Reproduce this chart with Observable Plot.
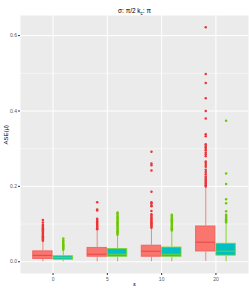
<!DOCTYPE html>
<html>
<head>
<meta charset="utf-8">
<script src="https://cdn.jsdelivr.net/npm/d3@7"></script>
<script src="https://cdn.jsdelivr.net/npm/@observablehq/plot@0.6"></script>
<style>
  body { margin: 0; background: #fff; }
  svg { font-family: "Liberation Sans", Arial, sans-serif; }
</style>
</head>
<body>
<div id="chart"></div>
<script>
// ---- data ----
const epsilons = ["0", "5", "10", "20"];
const yTicks = [0, 0.2, 0.4, 0.6];
const yMinor = [0.1, 0.3, 0.5];

const redLow  = [0.000, 0.000, 0.000, 0.001];
const redQ1   = [0.006, 0.012, 0.012, 0.026];
const redMed  = [0.017, 0.020, 0.028, 0.052];
const redQ3   = [0.029, 0.038, 0.044, 0.095];
const redHigh = [0.053, 0.083, 0.087, 0.196];

const greenLow  = [0.000, 0.000, 0.000, 0.000];
const greenQ1   = [0.004, 0.012, 0.012, 0.015];
const greenMed  = [0.011, 0.020, 0.020, 0.028];
const greenQ3   = [0.016, 0.035, 0.039, 0.049];
const greenHigh = [0.029, 0.069, 0.080, 0.100];

const redOut0  = [0.056,0.059,0.062,0.065,0.068,0.071,0.074,0.077,0.080,0.083,0.086,0.089,0.092,0.095,0.098,0.104,0.111];
const redOut5  = [0.086,0.089,0.092,0.095,0.098,0.101,0.104,0.107,0.111,0.114,0.136,0.139,0.158];
const redOut10 = [0.090,0.093,0.096,0.099,0.102,0.105,0.108,0.111,0.114,0.118,0.122,0.126,0.135,0.147,0.150,0.155,0.158,0.186,0.242,0.256,0.261,0.292];
const redOut20 = [0.200,0.203,0.206,0.209,0.212,0.215,0.218,0.222,0.226,0.232,0.238,0.244,0.252,0.257,0.262,0.266,0.280,0.285,0.290,0.296,0.300,0.304,0.308,0.312,0.333,0.338,0.380,0.400,0.434,0.474,0.498,0.622];

const greenOut0  = [0.032,0.035,0.038,0.041,0.044,0.047,0.050,0.053,0.057,0.062];
const greenOut5  = [0.072,0.075,0.078,0.081,0.084,0.087,0.090,0.093,0.096,0.099,0.102,0.105,0.108,0.111,0.114,0.117,0.120,0.124,0.128,0.131];
const greenOut10 = [0.083,0.086,0.089,0.092,0.095,0.098,0.101,0.104,0.107,0.110,0.113,0.116,0.119,0.122,0.125];
const greenOut20 = [0.104,0.107,0.110,0.113,0.116,0.119,0.122,0.125,0.134,0.155,0.166,0.206,0.234,0.374];

const redOut = [redOut0, redOut5, redOut10, redOut20];
const greenOut = [greenOut0, greenOut5, greenOut10, greenOut20];

// ---- styling ----
const RED_FILL = "#F8766D", RED_LINE = "#F25C5C", RED_MED = "#E8444A", RED_PT = "#EE3338", RED_WHISK = "#F27A7A";
const GRN_FILL = "#00BFC4", GRN_LINE = "#79D21C", GRN_PT = "#6CC800";

// ---- build tables ----
const HALF = 0.375; // dodge half width
const boxes = [];
epsilons.forEach((e, i) => {
  boxes.push({c: i + 1, side: -1, lo: redLow[i], q1: redQ1[i], med: redMed[i], q3: redQ3[i], hi: redHigh[i], fill: RED_FILL, line: RED_LINE, medc: RED_MED, wh: RED_WHISK});
  boxes.push({c: i + 1, side: 1, lo: greenLow[i], q1: greenQ1[i], med: greenMed[i], q3: greenQ3[i], hi: greenHigh[i], fill: GRN_FILL, line: GRN_LINE, medc: GRN_LINE, wh: GRN_LINE});
});
const pts = [];
epsilons.forEach((e, i) => {
  redOut[i].forEach(v => pts.push({c: i + 1, side: -1, v, col: RED_PT}));
  greenOut[i].forEach(v => pts.push({c: i + 1, side: 1, v, col: GRN_PT}));
});
const left = d => d.side < 0 ? d.c - HALF : d.c;
const right = d => d.side < 0 ? d.c : d.c + HALF;
const mid = d => d.c + d.side * HALF / 2;

const TITLE = "σ: π/2 kc: π";

const chart = Plot.plot({
  width: 249,
  height: 291,
  marginTop: 15,
  marginBottom: 18,
  marginLeft: 20,
  marginRight: 1,
  x: {domain: [0.4, 4.6]},
  y: {domain: [-0.0311, 0.6533]},
  style: {fontFamily: "Liberation Sans, Arial, sans-serif", background: "#fff", color: "#000"},
  marks: [
    Plot.frame({fill: "#EBEBEB", stroke: null}),
    Plot.ruleY(yMinor, {stroke: "#fff", strokeWidth: 0.5}),
    Plot.ruleY(yTicks, {stroke: "#fff", strokeWidth: 1}),
    Plot.ruleX([1, 2, 3, 4], {stroke: "#fff", strokeWidth: 1}),
    // whiskers
    Plot.ruleX(boxes, {x: mid, y1: "lo", y2: "q1", stroke: "wh", strokeWidth: 1, strokeOpacity: 0.9}),
    Plot.ruleX(boxes, {x: mid, y1: "q3", y2: "hi", stroke: "wh", strokeWidth: 1, strokeOpacity: 0.9}),
    // boxes
    Plot.rect(boxes, {x1: left, x2: right, y1: "q1", y2: "q3", fill: "fill", stroke: "line", strokeWidth: 1, strokeOpacity: 0.85, inset: 0.5}),
    Plot.ruleY(boxes, {x1: left, x2: right, y: "med", stroke: "medc", strokeWidth: 1, insetLeft: 0.5, insetRight: 0.5}),
    // outliers
    Plot.dot(pts, {x: mid, y: "v", fill: "col", r: 1.25, stroke: null}),
    // axes
    Plot.axisY(yTicks, {tickFormat: d3.format(".1f"), tickSize: 2, tickPadding: 1.5, fontSize: 5, color: "#555", stroke: "#333", label: null}),
    Plot.axisX([1, 2, 3, 4], {tickFormat: d => epsilons[d - 1], tickSize: 2, tickPadding: 1.5, fontSize: 5, color: "#555", stroke: "#333", label: null}),
    // titles
    Plot.text(["ε"], {frameAnchor: "bottom", dy: 12, fontSize: 6, fill: "#000"}),
    Plot.text(["ASE(μ̂)"], {frameAnchor: "left", dx: -14, rotate: -90, fontSize: 6, fill: "#000"}),
    Plot.text([TITLE], {frameAnchor: "top", dy: -7, fontSize: 6.5, fill: "#000"})
  ],
  color: {type: "identity"}
});
// subscript c in the title
chart.querySelectorAll("text").forEach(t => {
  if (t.textContent === TITLE) {
    t.textContent = "";
    const ns = "http://www.w3.org/2000/svg";
    const a = document.createElementNS(ns, "tspan"); a.textContent = "σ: π/2 k";
    const b = document.createElementNS(ns, "tspan"); b.textContent = "c"; b.setAttribute("font-size", "4.5"); b.setAttribute("dy", "1.5");
    const c = document.createElementNS(ns, "tspan"); c.textContent = ": π"; c.setAttribute("dy", "-1.5");
    [a, b, c].forEach(s => s.setAttribute("fill", "#000"));
    t.setAttribute("fill", "#000");
    t.append(a, b, c);
  }
});
document.getElementById("chart").append(chart);
</script>
</body>
</html>
